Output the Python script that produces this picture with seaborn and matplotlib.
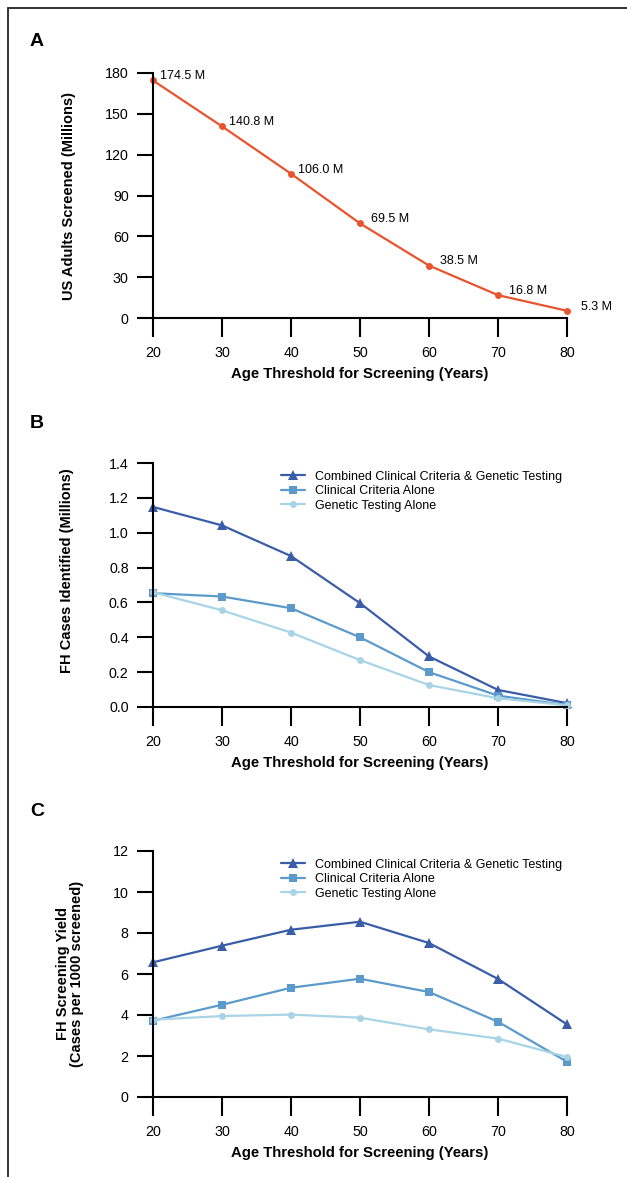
import numpy as np
import pandas as pd
import seaborn as sns
import matplotlib.pyplot as plt
from matplotlib.lines import Line2D

# Data
ages = [20, 30, 40, 50, 60, 70, 80]

screened = [174.5, 140.8, 106.0, 69.5, 38.5, 16.8, 5.3]
screened_labels = ["174.5 M", "140.8 M", "106.0 M", "69.5 M", "38.5 M", "16.8 M", "5.3 M"]

cases_combined = [1.148, 1.042, 0.866, 0.596, 0.290, 0.098, 0.022]
cases_clinical = [0.653, 0.634, 0.567, 0.400, 0.200, 0.065, 0.011]
cases_genetic = [0.658, 0.555, 0.427, 0.269, 0.126, 0.050, 0.010]

yield_combined = [6.57, 7.38, 8.16, 8.55, 7.51, 5.76, 3.54]
yield_clinical = [3.72, 4.50, 5.33, 5.77, 5.12, 3.67, 1.72]
yield_genetic = [3.77, 3.95, 4.02, 3.87, 3.30, 2.85, 1.95]

series_names = ["Combined Clinical Criteria & Genetic Testing",
                "Clinical Criteria Alone",
                "Genetic Testing Alone"]

sns.set_style("ticks")
plt.rcParams["font.family"] = ["Liberation Sans", "DejaVu Sans"]
plt.rcParams["text.color"] = "black"
plt.rcParams["axes.labelcolor"] = "black"

colors = ["#3a5da8", "#5b9acb", "#a8d4e6"]
markers = ["^", "s", "o"]
msizes = [6.5, 5.5, 5]
orange = "#e8542e"

W, H = 627, 1177
fig = plt.figure(figsize=(6.27, 11.77), dpi=100)

# outer frame (top and left edges only, like the source)
fig.add_artist(Line2D([8 / W, 1], [1 - 8 / H, 1 - 8 / H], color="#333333", lw=1.4))
fig.add_artist(Line2D([8 / W, 8 / W], [0, 1 - 8 / H], color="#333333", lw=1.4))


def make_ax(top_px, bottom_px):
    left, right = 153, 567
    return fig.add_axes([left / W, 1 - bottom_px / H, (right - left) / W, (bottom_px - top_px) / H])


def style_ax(ax, ylabel, yticks, fmt):
    sns.despine(ax=ax)
    for s in ["left", "bottom"]:
        ax.spines[s].set_linewidth(1.5)
        ax.spines[s].set_color("black")
    ax.set_xlim(20, 80)
    ax.set_xticks(ages)
    ax.set_yticks(yticks)
    ax.set_yticklabels([fmt.format(v) for v in yticks])
    ax.set_ylim(yticks[0], yticks[-1])
    ax.tick_params(axis="x", length=14, width=1.5, pad=6, labelsize=10.3, colors="black")
    ax.tick_params(axis="y", length=11.5, width=1.5, pad=6, labelsize=10.3, colors="black")
    ax.set_xlabel("Age Threshold for Screening (Years)", fontsize=10.7, fontweight="bold", labelpad=5)
    ax.set_ylabel(ylabel, fontsize=10.5, fontweight="bold")


# Panel A
axA = make_ax(73, 318)
sns.lineplot(x=ages, y=screened, ax=axA, color=orange, marker="o", markersize=5,
             markeredgewidth=0, linewidth=1.6, clip_on=False)
x_offsets = [7, 7, 7, 11, 11, 11, 14]
for x, y, lab, dx in zip(ages, screened, screened_labels, x_offsets):
    axA.annotate(lab, (x, y), xytext=(dx * 0.72, 3), textcoords="offset points",
                 fontsize=9, ha="left", va="center")
style_ax(axA, "US Adults Screened (Millions)", [0, 30, 60, 90, 120, 150, 180], "{:.0f}")
axA.yaxis.set_label_coords(-0.186, 0.5)

# Panel B
axB = make_ax(463, 707)
for name, vals, c, m, ms in zip(series_names, [cases_combined, cases_clinical, cases_genetic],
                                colors, markers, msizes):
    sns.lineplot(x=ages, y=vals, ax=axB, color=c, marker=m, markersize=ms,
                 markeredgewidth=0, linewidth=1.6, label=name, clip_on=False)
style_ax(axB, "FH Cases Identified (Millions)", [0, 0.2, 0.4, 0.6, 0.8, 1.0, 1.2, 1.4], "{:.1f}")
axB.yaxis.set_label_coords(-0.19, 0.557)

# Panel C
axC = make_ax(851, 1097)
for name, vals, c, m, ms in zip(series_names, [yield_combined, yield_clinical, yield_genetic],
                                colors, markers, msizes):
    sns.lineplot(x=ages, y=vals, ax=axC, color=c, marker=m, markersize=ms,
                 markeredgewidth=0, linewidth=1.6, label=name, clip_on=False)
style_ax(axC, "FH Screening Yield\n(Cases per 1000 screened)", [0, 2, 4, 6, 8, 10, 12], "{:.0f}")
axC.yaxis.label.set_linespacing(1.0)
axC.yaxis.set_label_coords(-0.167, 0.5)

for ax in [axB, axC]:
    ax.legend(loc="upper left", bbox_to_anchor=(0.31, 0.968), frameon=False, fontsize=9,
              handlelength=1.9, handletextpad=0.8, labelspacing=0.2, borderpad=0, borderaxespad=0)

# panel letters
for letter, ypx in [("A", 42), ("B", 424), ("C", 812)]:
    fig.text(30 / W, 1 - ypx / H, letter, fontsize=14, fontweight="bold", va="center", ha="left")

fig.savefig("out.png", dpi=100)
